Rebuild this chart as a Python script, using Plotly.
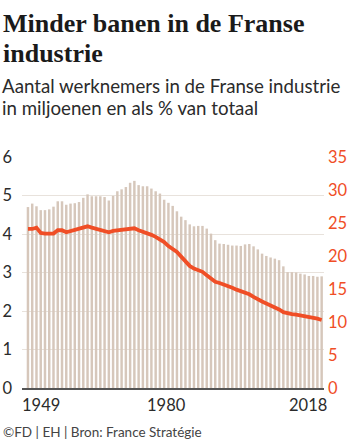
import plotly.graph_objects as go

years = list(range(1949, 2019))
workers_mln = [
    4.70, 4.79, 4.72, 4.62, 4.62, 4.64, 4.71, 4.85, 4.85, 4.76,
    4.79, 4.80, 4.83, 4.94, 5.03, 4.98, 4.98, 4.98, 4.96, 4.87,
    4.99, 5.11, 5.16, 5.22, 5.33, 5.38, 5.27, 5.24, 5.24, 5.18,
    5.11, 5.05, 4.89, 4.81, 4.73, 4.59, 4.45, 4.36, 4.25, 4.20,
    4.21, 4.21, 4.14, 4.01, 3.84, 3.75, 3.74, 3.72, 3.70, 3.70,
    3.69, 3.73, 3.74, 3.68, 3.60, 3.49, 3.43, 3.39, 3.36, 3.32,
    3.16, 3.01, 3.01, 3.00, 2.97, 2.95, 2.91, 2.91, 2.89, 2.90,
]
share_pct = [
    24.1, 24.1, 24.3, 23.5, 23.4, 23.4, 23.4, 23.9, 23.9, 23.6,
    23.8, 23.9, 24.1, 24.4, 24.5, 24.3, 24.1, 23.9, 23.8, 23.6,
    23.8, 23.9, 24.0, 24.1, 24.2, 24.2, 23.9, 23.7, 23.5, 23.2,
    22.9, 22.5, 22.1, 21.5, 21.1, 20.6, 19.9, 19.1, 18.5, 18.1,
    17.9, 17.6, 17.1, 16.6, 16.1, 15.9, 15.7, 15.5, 15.2, 14.9,
    14.65, 14.5, 14.2, 13.8, 13.4, 13.1, 12.8, 12.5, 12.3, 11.9,
    11.5, 11.3, 11.2, 11.1, 11.0, 10.9, 10.7, 10.6, 10.5, 10.3,
]
year_labels = [1949, 1980, 2018]
left_ticks = [0, 1, 2, 3, 4, 5, 6]
right_ticks = [0, 5, 10, 15, 20, 25, 30, 35]

title_lines = ["Minder banen in de Franse", "industrie"]
subtitle_lines = ["Aantal werknemers in de Franse industrie", "in miljoenen en als % van totaal"]
source = "©FD | EH | Bron: France Stratégie"

ORANGE = "#f04e26"
BAR = "#d6c7bb"
GRID = "#e8e2dc"
TEXT = "#2b2b2b"
SANS = "Lato, 'Open Sans', sans-serif"

W, H = 360, 440
L, R = 22, 36
top_px, bot_px = 156.7, 387.7
ph = bot_px - top_px
pw = W - L - R

def py(y):
    return (bot_px - y) / ph

def px(x):
    return (x - L) / pw

fig = go.Figure()
fig.add_trace(go.Bar(x=years, y=workers_mln, marker=dict(color=BAR, line=dict(width=0)),
                     hoverinfo="skip", yaxis="y"))
fig.add_trace(go.Scatter(x=years, y=share_pct, mode="lines",
                         line=dict(color=ORANGE, width=3.8), yaxis="y2", hoverinfo="skip"))

annotations = []
for i, t in enumerate(title_lines):
    annotations.append(dict(text=f"<b>{t}</b>", xref="paper", yref="paper",
                            x=px(1), y=py(23 + 30.5 * i), xanchor="left", yanchor="middle",
                            showarrow=False,
                            font=dict(family="'Liberation Serif', serif", size=26, color="#1a1a1a")))
for i, t in enumerate(subtitle_lines):
    annotations.append(dict(text=t, xref="paper", yref="paper",
                            x=px(0), y=py(86 + 22 * i), xanchor="left", yanchor="middle",
                            showarrow=False, font=dict(family=SANS, size=18.7, color=TEXT)))
annotations.append(dict(text=source, xref="paper", yref="paper",
                        x=px(1), y=py(432), xanchor="left", yanchor="middle",
                        showarrow=False, font=dict(family=SANS, size=13.5, color="#444")))
shifts = {1949: 13, 1980: 7, 2018: -14}
for yr in year_labels:
    annotations.append(dict(text=str(yr), xref="x", yref="paper", x=yr, y=py(405),
                            xanchor="center", yanchor="middle", xshift=shifts[yr],
                            showarrow=False, font=dict(family=SANS, size=16.5, color=TEXT)))

fig.update_layout(
    width=W, height=H,
    margin=dict(l=L, r=R, t=top_px, b=H - bot_px, pad=0, autoexpand=False),
    paper_bgcolor="white", plot_bgcolor="white",
    showlegend=False, bargap=0.42,
    xaxis=dict(range=[1947.6, 2018.55], showticklabels=False, showgrid=False,
               zeroline=False, showline=True, linecolor="#555", linewidth=1.5,
               ticks="", fixedrange=True, automargin=False),
    yaxis=dict(range=[0, 6], tickvals=left_ticks, showgrid=True, gridcolor=GRID,
               gridwidth=1, zeroline=False, ticks="", ticklabelstandoff=9, automargin=False,
               fixedrange=True, tickfont=dict(family=SANS, size=16.5, color=TEXT)),
    yaxis2=dict(range=[0, 35], tickvals=right_ticks, ticksuffix="%", overlaying="y",
                side="right", showgrid=False, zeroline=False, ticks="", automargin=False,
                ticklabelstandoff=3, fixedrange=True,
                tickfont=dict(family=SANS, size=16.5, color=ORANGE)),
    annotations=annotations,
)

fig.write_html("out.html", config={"displayModeBar": False, "staticPlot": True},
               post_script="document.body.style.margin='0';document.body.style.padding='0';")
